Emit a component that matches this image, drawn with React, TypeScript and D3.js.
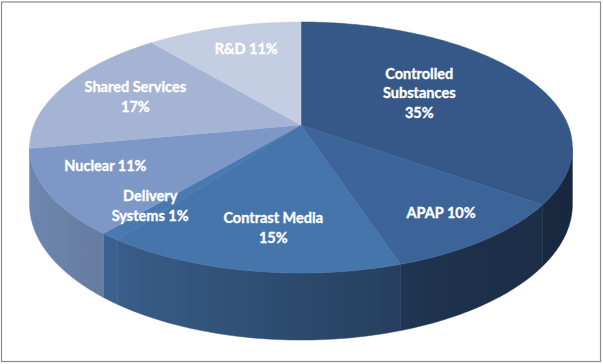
import * as d3 from "d3";

// slice data, clockwise from 12 o'clock
const categories = ["Controlled Substances", "APAP", "Contrast Media", "Delivery Systems", "Nuclear", "Shared Services", "R&D"];
const shares = [35, 10, 15, 1, 11, 17, 11];
const topColors = ["#355889", "#3c6499", "#4675ac", "#4a78b0", "#7d98c6", "#a5b4d4", "#c4cee2"];
// word counts after which the label wraps
const labelBreaks = [[1, 2], [], [2], [1], [], [2], []];
// label placement (fraction of radius, turn in degrees)
const labelRadius = [0.54, 0.79, 0.74, 0.78, 0.76, 0.69, 0.74];
const labelTurn = [-3.6, 0, -2, 2.5, 6, 0.5, 1.6];

const W = 603;
const H = 364;

// perspective disk -> screen
const CX = 301, CY = 125, A = 267, B = 121.5, K = 0.1793, DEPTH = 55;

function project(theta: number, r = 1): [number, number] {
  const u = r * Math.sin(theta);
  const v = -r * Math.cos(theta);
  const w = 1 - K * v;
  return [CX + (A * u) / w, CY + (B * v) / w];
}

function projectBottom(theta: number): [number, number] {
  const [x, y] = project(theta);
  const w = 1 + K * Math.cos(theta);
  return [x, y + DEPTH / w];
}

function arcPoints(a: number, b: number, fn: (t: number) => [number, number]) {
  const n = Math.max(2, Math.ceil(((b - a) * 180) / Math.PI));
  return d3.range(n + 1).map((i) => fn(a + ((b - a) * i) / n));
}

function shade(c: string, f: number) {
  const rgb = d3.rgb(c);
  return d3.rgb(rgb.r * f, rgb.g * f, rgb.b * f).formatHex();
}

export default function App() {
  const pie = d3.pie<number>().sort(null).value((d) => d);
  const arcs = pie(shares);
  const line = d3.line().curve(d3.curveLinear);

  const thetaR = Math.acos(-K);
  const thetaL = 2 * Math.PI - thetaR;

  const sides = arcs
    .map((d, i) => {
      const s = Math.max(d.startAngle, thetaR);
      const e = Math.min(d.endAngle, thetaL);
      if (e <= s) return null;
      const top = arcPoints(s, e, (t) => project(t));
      const bottom = arcPoints(s, e, projectBottom).reverse();
      return { i, d: line([...top, ...bottom]) + "Z" };
    })
    .filter((x) => x !== null) as { i: number; d: string }[];

  const tops = arcs.map((d, i) => {
    const pts = arcPoints(d.startAngle, d.endAngle, (t) => project(t));
    return { i, d: line([project(0, 0), ...pts]) + "Z" };
  });

  const labels = arcs.map((d, i) => {
    const mid = (d.startAngle + d.endAngle) / 2 + (labelTurn[i] * Math.PI) / 180;
    const [x, y] = project(mid, labelRadius[i]);
    const words = `${categories[i]} ${shares[i]}%`.split(" ");
    const lines: string[] = [];
    let prev = 0;
    [...labelBreaks[i], words.length].forEach((b) => {
      lines.push(words.slice(prev, b).join(" "));
      prev = b;
    });
    return { x, y, lines };
  });

  const lh = 19.5;

  return (
    <svg width={W} height={H} style={{ position: "absolute", left: 0, top: 0, background: "#fff" }}>
      <defs>
        {topColors.map((c, i) => (
          <linearGradient key={i} id={`side${i}`} gradientUnits="userSpaceOnUse" x1={29} x2={572} y1={0} y2={0}>
            <stop offset="0" stopColor={shade(c, 0.88)} />
            <stop offset="0.8" stopColor={shade(c, 0.48)} />
            <stop offset="1" stopColor={shade(c, 0.46)} />
          </linearGradient>
        ))}
      </defs>
      <rect x={1.5} y={2} width={599} height={359.5} fill="#fff" stroke="#8a8a8a" strokeWidth={1.2} />
      {sides.map((s) => (
        <path key={`s${s.i}`} d={s.d} fill={`url(#side${s.i})`} stroke={`url(#side${s.i})`} strokeWidth={0.5} />
      ))}
      {tops.map((t) => (
        <path key={`t${t.i}`} d={t.d} fill={topColors[t.i]} stroke={topColors[t.i]} strokeWidth={0.5} />
      ))}
      {labels.map((l, i) => (
        <text
          key={`l${i}`}
          textAnchor="middle"
          fill="#fff"
          stroke="#fff"
          strokeWidth={0.35}
          fontFamily="Lato, 'Open Sans', sans-serif"
          fontWeight="bold"
          fontSize={14.5}
        >
          {l.lines.map((t, j) => (
            <tspan key={j} x={l.x} y={l.y + (j - (l.lines.length - 1) / 2) * lh + 5}>
              {t}
            </tspan>
          ))}
        </text>
      ))}
    </svg>
  );
}
